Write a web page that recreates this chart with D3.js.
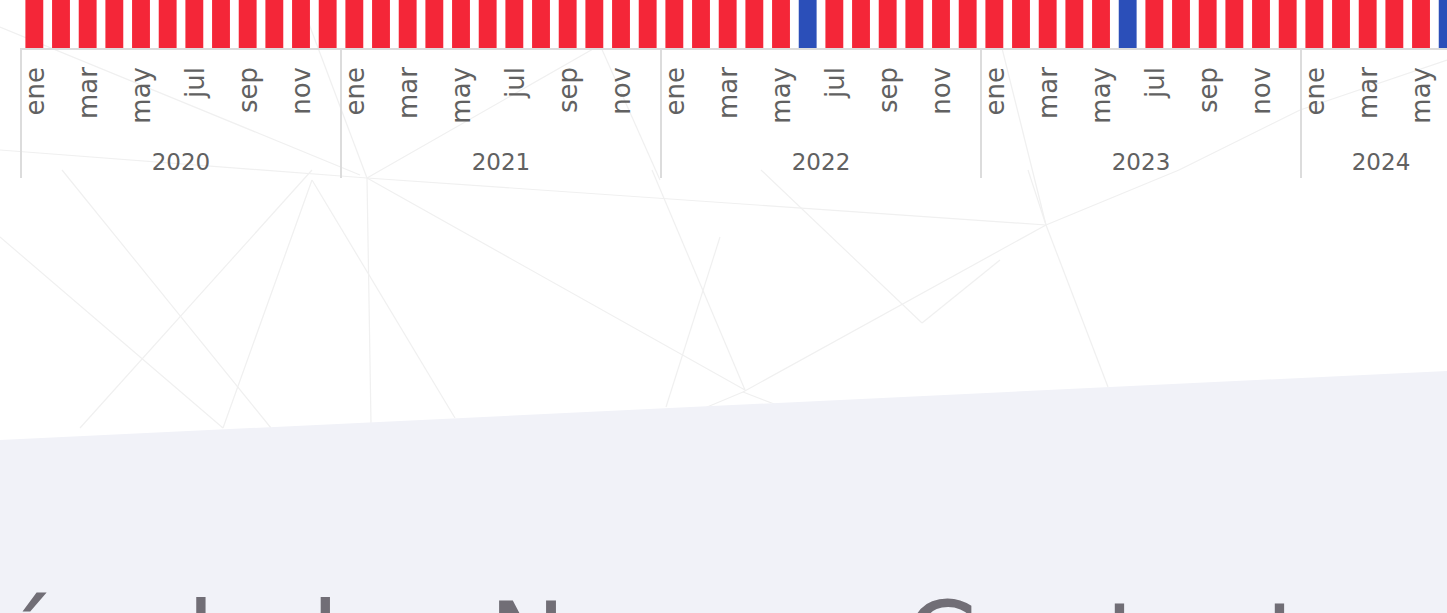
<!DOCTYPE html>
<html lang="es">
<head>
<meta charset="utf-8">
<title>Meses</title>
<script src="https://cdn.jsdelivr.net/npm/d3@7"></script>
<style>
  html, body { margin: 0; padding: 0; background: #fff; overflow: hidden; }
  svg { display: block; }
  text { font-family: "DejaVu Sans", sans-serif; }
</style>
</head>
<body>
<script>
// data
var years = [2020, 2021, 2022, 2023, 2024]
var monthNames = ["ene","feb","mar","abr","may","jun","jul","ago","sep","oct","nov","dic"]
// one bar per month, ene 2020 .. jun 2024 ; "b" marks the blue months
var monthStatus = [
  "r","r","r","r","r","r","r","r","r","r","r","r",
  "r","r","r","r","r","r","r","r","r","r","r","r",
  "r","r","r","r","r","b","r","r","r","r","r","r",
  "r","r","r","r","r","b","r","r","r","r","r","r",
  "r","r","r","r","r","b"
]
var values = [
  1,1,1,1,1,1,1,1,1,1,1,1,
  1,1,1,1,1,1,1,1,1,1,1,1,
  1,1,1,1,1,1,1,1,1,1,1,1,
  1,1,1,1,1,1,1,1,1,1,1,1,
  1,1,1,1,1,1
]
var heading = "Más de los Nuevos Contactos"

var W = 1447, H = 613
var svg = d3.select("body").append("svg").attr("width", W).attr("height", H)

//////////////////////////////////////////////////////////////
// background: faint triangle mesh + lavender band
//////////////////////////////////////////////////////////////
var mesh = [
  [[0,27],[360,175]], [[0,237],[223,428]], [[62,170],[271,428]],
  [[312,170],[80,428]], [[312,180],[223,428]], [[367,178],[371,423]],
  [[367,178],[745,390]], [[367,178],[1046,225]], [[312,180],[455,418]],
  [[652,170],[745,390]], [[720,237],[666,407]], [[1046,225],[1179,170]],
  [[1046,225],[743,392]], [[1046,225],[1108,387]], [[1028,170],[1046,225]],
  [[761,170],[922,323]], [[922,323],[1000,260]], [[743,392],[700,410]],
  [[743,392],[790,410]], [[600,45],[367,178]], [[600,45],[660,180]],
  [[0,150],[367,178]], [[1179,170],[1300,110]], [[1300,110],[1447,60]],
  [[300,0],[367,178]], [[990,0],[1046,225]]
]
svg.append("g").selectAll("line").data(mesh).enter().append("line")
  .attr("x1", function(d){ return d[0][0] }).attr("y1", function(d){ return d[0][1] })
  .attr("x2", function(d){ return d[1][0] }).attr("y2", function(d){ return d[1][1] })
  .attr("stroke", "#f0f0f0").attr("stroke-width", 1.2)

svg.append("path")
  .attr("d", "M0,440 L" + W + ",371 L" + W + "," + H + " L0," + H + " Z")
  .attr("fill", "#f1f2f8")

//////////////////////////////////////////////////////////////
// scales
//////////////////////////////////////////////////////////////
var months = monthStatus.map(function(s, i){
  return { key: i, year: years[Math.floor(i / 12)], m: i % 12, status: s, value: values[i] }
})

var x = d3.scaleBand()
  .domain(months.map(function(d){ return d.key }))
  .range([21, 21 + 26.667 * months.length])
  .paddingInner(0.33)
  .paddingOuter(0.165)

var baseY = 48
var y = d3.scaleLinear().domain([0, 1]).range([baseY, -260])

var color = d3.scaleOrdinal().domain(["r","b"]).range(["#f42638","#2b4fb9"])

//////////////////////////////////////////////////////////////
// bars
//////////////////////////////////////////////////////////////
svg.append("g").selectAll("rect").data(months).enter().append("rect")
  .attr("x", function(d){ return x(d.key) })
  .attr("y", function(d){ return y(d.value) })
  .attr("width", x.bandwidth())
  .attr("height", function(d){ return y(0) - y(d.value) })
  .attr("fill", function(d){ return color(d.status) })

//////////////////////////////////////////////////////////////
// axis: baseline, month labels, year groups
//////////////////////////////////////////////////////////////
var axis = svg.append("g")
var step = x.step()
var x0 = x.range()[0]

axis.append("line")
  .attr("x1", x0).attr("x2", x.range()[1])
  .attr("y1", baseY + 1).attr("y2", baseY + 1)
  .attr("stroke", "#dcdcdc").attr("stroke-width", 2)

axis.selectAll("text.month").data(months.filter(function(d){ return d.m % 2 == 0 }))
  .enter().append("text")
  .attr("class", "month")
  .attr("transform", function(d){
    return "translate(" + (x(d.key) + x.bandwidth() / 2) + ",67) rotate(-90)"
  })
  .attr("dy", "0.36em")
  .attr("text-anchor", "end")
  .attr("font-size", 26)
  .attr("fill", "#616161")
  .text(function(d){ return monthNames[d.m] })

var yearData = years.map(function(yr){
  var ms = months.filter(function(d){ return d.year == yr })
  var a = x0 + step * ms[0].key
  var b = x0 + step * (ms[ms.length - 1].key + 1)
  return { year: yr, a: a, b: b }
})

axis.selectAll("line.yr").data(yearData).enter().append("line")
  .attr("class", "yr")
  .attr("x1", function(d){ return d.a }).attr("x2", function(d){ return d.a })
  .attr("y1", baseY).attr("y2", 178)
  .attr("stroke", "#dcdcdc").attr("stroke-width", 2)

axis.selectAll("text.yr").data(yearData).enter().append("text")
  .attr("class", "yr")
  .attr("x", function(d){ return (d.a + d.b) / 2 })
  .attr("y", 170)
  .attr("text-anchor", "middle")
  .attr("font-size", 23)
  .attr("fill", "#616161")
  .text(function(d){ return d.year })

//////////////////////////////////////////////////////////////
// heading below (cut by the window)
//////////////////////////////////////////////////////////////
svg.append("text")
  .attr("x", -89)
  .attr("y", 676)
  .attr("font-size", 103)
  .attr("fill", "#716e76")
  .text(heading)
</script>
</body>
</html>
